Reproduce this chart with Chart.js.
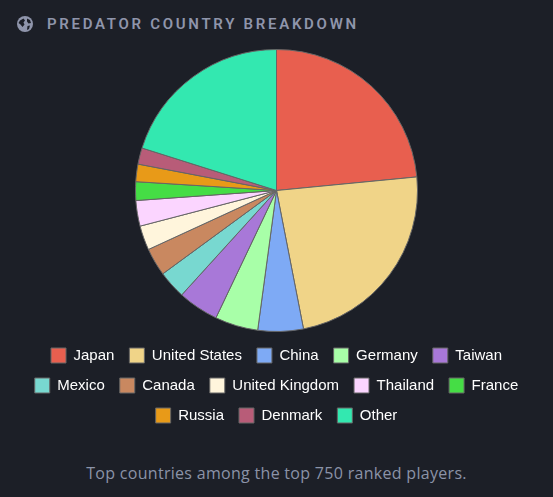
<!DOCTYPE html>
<html>
<head>
<meta charset="utf-8">
<script src="https://cdn.jsdelivr.net/npm/chart.js@4"></script>
<style>
  html, body { margin: 0; padding: 0; background: #1c1f27; }
  body { width: 553px; height: 497px; position: relative; overflow: hidden; }
  .head { position: absolute; left: 17px; top: 15px; height: 18px; display: flex; align-items: center; }
  .head svg { width: 16px; height: 16px; margin-right: 14px; }
  .head span { font: 600 15px Roboto, sans-serif; letter-spacing: 2.7px; color: #8f95ab; }
  .box { position: absolute; left: 16px; top: 48px; width: 521px; height: 385px; }
  .note { position: absolute; left: 0; width: 553px; top: 462px; text-align: center; font: 16px "Open Sans", sans-serif; letter-spacing: 0.3px; color: #8b93a8; }
</style>
</head>
<body>
<div class="head">
  <svg viewBox="0 0 16 16"><circle cx="8" cy="8" r="8" fill="#8f95ab"/><path d="M3 4.5 6.5 2.5 8 4.5 6.5 6.5 7.5 8.5 5.5 11 3.5 8.5 1.5 7Z M10 2.5 13 4 14 7 11.5 7.5 10 5.5Z M10.5 10 13 9.5 12 13 10 14Z" fill="#1c1f27"/></svg>
  <span>PREDATOR COUNTRY BREAKDOWN</span>
</div>
<div class="box"><canvas id="pie"></canvas></div>
<div class="note">Top countries among the top 750 ranked players.</div>

<script>
const countries = ["Japan", "United States", "China", "Germany", "Taiwan", "Mexico", "Canada",
  "United Kingdom", "Thailand", "France", "Russia", "Denmark", "Other"];
const players = [176, 176, 39, 37, 35, 24, 24, 21, 22, 16, 15, 14, 151];
const colors = ["#e85f4f", "#f0d488", "#7eaaf5", "#a8ffa8", "#a878d8", "#78d8d0", "#c98860",
  "#fff5dc", "#fbd5ff", "#45dd45", "#e89a18", "#b85c78", "#33e8b0"];

new Chart(document.getElementById("pie").getContext("2d"), {
  type: "pie",
  data: {
    labels: countries,
    datasets: [
      {
        data: players,
        backgroundColor: colors,
        borderColor: "#666",
        borderWidth: 1,
        radius: 141
      }
    ]
  },
  options: {
    responsive: true,
    maintainAspectRatio: false,
    animation: false,
    plugins: {
      legend: {
        position: "bottom",
        labels: {
          color: "#ffffff",
          boxWidth: 15,
          boxHeight: 15,
          padding: 15,
          font: { family: "'Liberation Sans', Arial, sans-serif", size: 15 }
        }
      }
    }
  }
});
</script>
</body>
</html>
